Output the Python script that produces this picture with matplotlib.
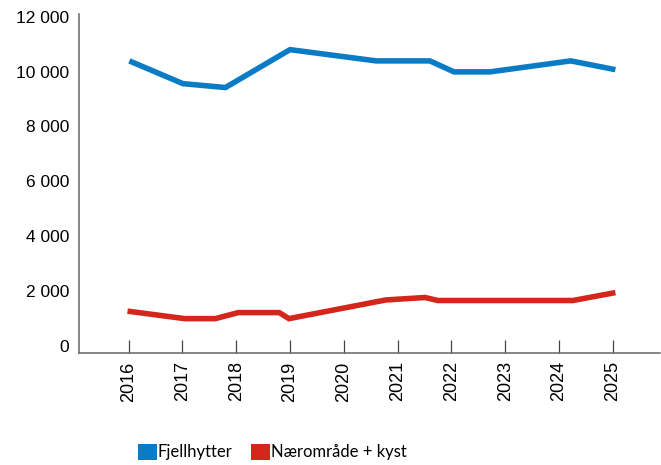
import matplotlib
matplotlib.use("Agg")
import matplotlib.pyplot as plt
from matplotlib.patches import Patch

# values (x in fractional years)
years = list(range(2016, 2026))

fjell_x = [2016.06, 2017.01, 2017.80, 2019.00, 2020.60, 2021.20, 2021.60,
           2022.05, 2022.72, 2024.22, 2025.00]
fjell_y = [10350, 9560, 9420, 10800, 10390, 10390, 10390,
           9990, 9990, 10390, 10090]

naer_x = [2016.03, 2017.04, 2017.61, 2018.04, 2018.80, 2018.98, 2020.78,
          2021.51, 2021.75, 2024.26, 2025.00]
naer_y = [1260, 1000, 1000, 1220, 1220, 1000, 1680,
          1770, 1660, 1660, 1930]

y_ticks = [0, 2000, 4000, 6000, 8000, 10000, 12000]
y_labels = ["0", "2 000", "4 000", "6 000", "8 000", "10 000", "12 000"]

labels = ["Fjellhytter", "Nærområde + kyst"]
colors = ["#0A7CC6", "#D5261C"]

fig = plt.figure(figsize=(6.61, 4.65), dpi=100)
ax = fig.add_axes([0.119, 0.241, 0.8795, 0.729])

ax.plot(fjell_x, fjell_y, color=colors[0], lw=4, solid_joinstyle="miter")
ax.plot(naer_x, naer_y, color=colors[1], lw=4, solid_joinstyle="miter")

ax.set_xlim(2015.07, 2025.88)
ax.set_ylim(-250, 12100)

ax.set_xticks(years)
ax.set_xticklabels([str(y) for y in years], rotation=90,
                   fontfamily="Liberation Sans", fontsize=13)
ax.set_yticks(y_ticks)
ax.set_yticklabels(y_labels, fontfamily="Liberation Sans", fontsize=12.5)

ax.tick_params(axis="x", direction="in", length=9.5, width=0.9,
               color="#444444", pad=6)
ax.tick_params(axis="y", length=0, pad=7)

for side in ["top", "right"]:
    ax.spines[side].set_visible(False)
for side in ["left", "bottom"]:
    ax.spines[side].set_color("#666666")
    ax.spines[side].set_linewidth(1.1)

handles = [Patch(facecolor=c, edgecolor="none") for c in colors]
fig.legend(handles, labels, loc="center left", bbox_to_anchor=(0.2088, 0.028),
           ncol=2, frameon=False, prop={"family": "Lato", "size": 12},
           handlelength=1.14, handleheight=1.1, handletextpad=0.05,
           columnspacing=1.1, borderpad=0, borderaxespad=0)

fig.savefig("out.png", dpi=100)
